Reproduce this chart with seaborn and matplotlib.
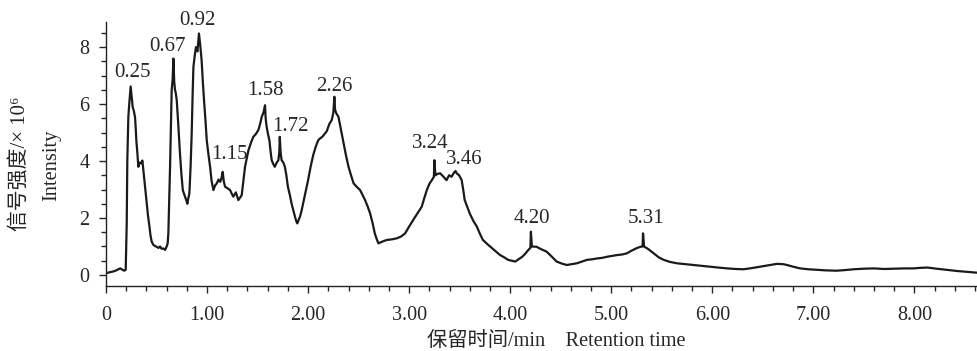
import pandas as pd
import matplotlib.pyplot as plt
import seaborn as sns
from matplotlib.ticker import MultipleLocator, FixedLocator

# retention time (min) and intensity (x 10^6)
times = [
    0.00, 0.03, 0.07, 0.10, 0.14, 0.16, 0.18, 0.195, 0.205, 0.211,
    0.221, 0.232, 0.244, 0.254, 0.264, 0.276, 0.287, 0.295, 0.30, 0.31,
    0.32, 0.335, 0.35, 0.36, 0.37, 0.385, 0.40, 0.415, 0.43, 0.44,
    0.452, 0.47, 0.485, 0.502, 0.52, 0.535, 0.55, 0.568, 0.585, 0.60,
    0.61, 0.617, 0.625, 0.634, 0.642, 0.650, 0.66, 0.667, 0.675, 0.683,
    0.69, 0.70, 0.715, 0.73, 0.745, 0.76, 0.772, 0.782, 0.795, 0.805,
    0.815, 0.825, 0.837, 0.848, 0.857, 0.865, 0.878, 0.89, 0.905, 0.92,
    0.933, 0.946, 0.958, 0.97, 0.985, 0.997, 1.015, 1.03, 1.045, 1.063,
    1.08, 1.096, 1.113, 1.13, 1.143, 1.155, 1.165, 1.178, 1.20, 1.228,
    1.245, 1.26, 1.285, 1.31, 1.328, 1.343, 1.36, 1.376, 1.393, 1.41,
    1.435, 1.458, 1.483, 1.508, 1.525, 1.541, 1.558, 1.574, 1.58, 1.59,
    1.603, 1.617, 1.63, 1.64, 1.655, 1.67, 1.69, 1.706, 1.715, 1.72,
    1.728, 1.738, 1.755, 1.77, 1.785, 1.80, 1.82, 1.837, 1.855, 1.87,
    1.882, 1.893, 1.905, 1.92, 1.935, 1.95, 1.975, 2.0, 2.025, 2.05,
    2.075, 2.10, 2.12, 2.14, 2.165, 2.185, 2.21, 2.234, 2.25, 2.26,
    2.267, 2.28, 2.30, 2.325, 2.35, 2.375, 2.40, 2.425, 2.45, 2.48,
    2.515, 2.54, 2.564, 2.59, 2.614, 2.64, 2.66, 2.68, 2.696, 2.74,
    2.78, 2.83, 2.88, 2.92, 2.96, 3.0, 3.04, 3.08, 3.125, 3.15,
    3.175, 3.20, 3.225, 3.245, 3.25, 3.26, 3.28, 3.307, 3.34, 3.37,
    3.395, 3.42, 3.445, 3.46, 3.47, 3.495, 3.52, 3.535, 3.55, 3.575,
    3.60, 3.635, 3.67, 3.70, 3.73, 3.775, 3.82, 3.86, 3.90, 3.94,
    3.98, 4.05, 4.12, 4.15, 4.18, 4.20, 4.205, 4.215, 4.26, 4.31,
    4.36, 4.41, 4.46, 4.51, 4.56, 4.61, 4.66, 4.71, 4.76, 4.81,
    4.86, 4.91, 4.96, 5.01, 5.06, 5.11, 5.155, 5.20, 5.25, 5.29,
    5.31, 5.315, 5.325, 5.37, 5.42, 5.47, 5.52, 5.58, 5.65, 5.73,
    5.82, 5.90, 5.98, 6.06, 6.15, 6.23, 6.31, 6.39, 6.475, 6.56,
    6.64, 6.70, 6.74, 6.80, 6.87, 6.95, 7.04, 7.13, 7.23, 7.31,
    7.40, 7.50, 7.60, 7.70, 7.80, 7.90, 7.99, 8.06, 8.13, 8.22,
    8.32, 8.42, 8.52, 8.62,
]
intensity = [
    0.06, 0.09, 0.12, 0.16, 0.23, 0.19, 0.15, 0.18, 1.80, 4.03,
    5.55, 6.10, 6.62, 6.25, 5.90, 5.75, 5.55, 5.10, 4.73, 4.30,
    3.80, 3.95, 3.92, 4.02, 3.68, 3.20, 2.63, 2.10, 1.70, 1.40,
    1.17, 1.05, 1.02, 0.99, 0.95, 1.00, 0.92, 0.93, 0.88, 1.00,
    1.10, 1.46, 2.60, 3.80, 5.20, 6.49, 6.90, 7.60, 6.80, 6.49,
    6.40, 6.14, 5.30, 4.38, 3.60, 2.98, 2.85, 2.75, 2.62, 2.50,
    2.70, 2.86, 3.80, 4.96, 6.30, 7.30, 7.70, 8.00, 7.85, 8.48,
    8.05, 7.55, 6.80, 6.14, 5.40, 4.73, 4.20, 3.80, 3.30, 2.98,
    3.15, 3.21, 3.35, 3.27, 3.40, 3.62, 3.30, 3.10, 3.05, 2.98,
    2.85, 2.75, 2.90, 2.63, 2.72, 2.80, 3.30, 3.80, 4.10, 4.38,
    4.65, 4.85, 4.95, 5.09, 5.30, 5.55, 5.70, 5.96, 5.50, 5.20,
    4.95, 4.73, 4.30, 4.03, 3.90, 3.80, 3.95, 4.03, 4.30, 4.85,
    4.30, 4.03, 3.95, 3.80, 3.50, 3.10, 2.80, 2.50, 2.25, 2.05,
    1.90, 1.81, 1.92, 2.05, 2.25, 2.50, 2.90, 3.33, 3.80, 4.20,
    4.50, 4.73, 4.80, 4.85, 4.96, 5.05, 5.30, 5.44, 5.70, 6.26,
    5.80, 5.67, 5.56, 5.10, 4.62, 4.20, 3.80, 3.50, 3.22, 3.10,
    2.98, 2.80, 2.63, 2.40, 2.16, 1.80, 1.46, 1.25, 1.11, 1.18,
    1.23, 1.25, 1.29, 1.35, 1.46, 1.70, 1.93, 2.15, 2.40, 2.70,
    2.98, 3.20, 3.33, 3.45, 4.03, 3.50, 3.55, 3.57, 3.45, 3.33,
    3.50, 3.45, 3.60, 3.65, 3.57, 3.50, 3.33, 3.00, 2.63, 2.40,
    2.16, 1.90, 1.70, 1.45, 1.23, 1.08, 0.94, 0.82, 0.70, 0.62,
    0.53, 0.47, 0.64, 0.75, 0.88, 0.95, 1.52, 1.00, 0.99, 0.90,
    0.82, 0.65, 0.47, 0.40, 0.35, 0.38, 0.41, 0.47, 0.53, 0.55,
    0.58, 0.60, 0.64, 0.67, 0.70, 0.72, 0.76, 0.85, 0.94, 0.99,
    1.00, 1.46, 1.00, 0.90, 0.76, 0.62, 0.53, 0.46, 0.41, 0.38,
    0.35, 0.32, 0.29, 0.26, 0.23, 0.21, 0.20, 0.24, 0.29, 0.34,
    0.39, 0.38, 0.35, 0.29, 0.23, 0.20, 0.18, 0.16, 0.15, 0.17,
    0.20, 0.22, 0.23, 0.21, 0.22, 0.23, 0.23, 0.25, 0.26, 0.22,
    0.18, 0.14, 0.11, 0.08,
]

# peak labels and where their text sits
peak_labels = ["0.25", "0.67", "0.92", "1.15", "1.58", "1.72", "2.26", "3.24", "3.46", "4.20", "5.31"]
label_x = [0.267, 0.604, 0.901, 1.218, 1.574, 1.822, 2.257, 3.208, 3.545, 4.218, 5.347]
label_y = [7.12, 8.04, 8.95, 4.23, 6.49, 5.23, 6.63, 4.60, 4.04, 2.00, 2.00]

x_ticks = [0, 1, 2, 3, 4, 5, 6, 7, 8]
x_tick_labels = ["0", "1.00", "2.00", "3.00", "4.00", "5.00", "6.00", "7.00", "8.00"]
y_ticks = [0, 2, 4, 6, 8]

sns.set_style("ticks")
serif = ["Liberation Serif", "Noto Sans CJK SC", "DejaVu Serif"]
plt.rcParams["font.family"] = serif

df = pd.DataFrame({"time": times, "intensity": intensity})

fig = plt.figure(figsize=(9.77, 3.51), dpi=100)
ax = fig.add_axes([0.1085, 0.185, 0.8915, 0.752])

sns.lineplot(data=df, x="time", y="intensity", ax=ax, color="#1a1a1a",
             linewidth=1.6, estimator=None, sort=False)

ax.set_xlim(0, 8.62)
ax.set_ylim(-0.39, 8.88)
ax.xaxis.set_major_locator(FixedLocator(x_ticks))
ax.set_xticklabels(x_tick_labels)
ax.xaxis.set_minor_locator(MultipleLocator(0.2))
ax.yaxis.set_major_locator(FixedLocator(y_ticks))
ax.yaxis.set_minor_locator(MultipleLocator(0.5))
ax.tick_params(which="major", length=5, width=1, labelsize=14.5, direction="out")
ax.tick_params(axis="x", which="major", pad=9)
ax.tick_params(axis="y", which="major", pad=7)
ax.tick_params(which="minor", length=3.5, width=1, direction="out")
for lab in ax.get_xticklabels() + ax.get_yticklabels():
    lab.set_family(serif)
sns.despine(ax=ax)
for s in ["left", "bottom"]:
    ax.spines[s].set_linewidth(1)
    ax.spines[s].set_color("#222222")

ax.set_xlabel("")
ax.set_ylabel("")

for txt, lx, ly in zip(peak_labels, label_x, label_y):
    ax.text(lx, ly, txt, ha="center", va="center", fontsize=15,
            family=serif, clip_on=False)

fig.text(0.0205, 0.533, "信号强度/× 10⁶", rotation=90, ha="center", va="center",
         fontsize=15, family=serif, color="#222222")
fig.text(0.053, 0.53, "Intensity", rotation=90, ha="center", va="center",
         fontsize=14.7, family=serif)
fig.text(0.569, 0.028, "保留时间/min    Retention time", ha="center", va="center",
         fontsize=14.6, family=serif)

fig.savefig("out.png", dpi=100)
